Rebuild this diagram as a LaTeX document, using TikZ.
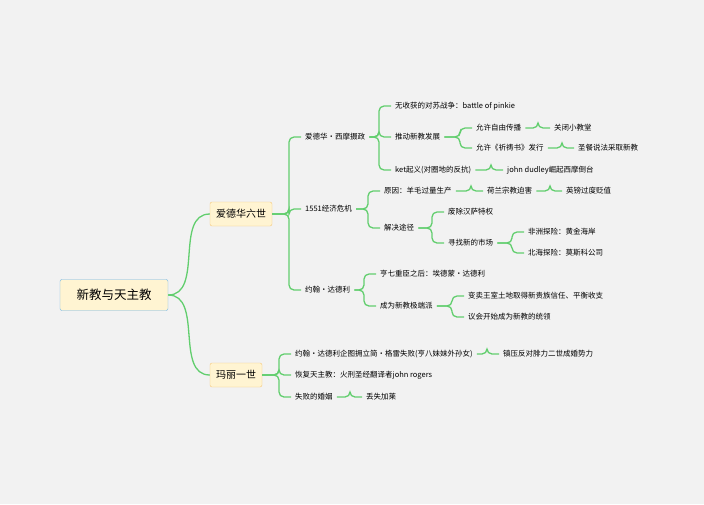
\documentclass[tikz,border=0pt]{standalone}
\usepackage{fontspec}
\setmainfont{Noto Sans CJK SC}
\begin{document}
\begin{tikzpicture}[x=1pt,y=-1pt,
    link/.style={draw={rgb,255:red,98;green,206;blue,110}, line width=1.3pt, rounded corners=5pt},
    leaf/.style={anchor=west, inner xsep=4pt, inner ysep=1pt, font=\fontsize{7.5}{9}\selectfont},
    rootbox/.style={draw={rgb,255:red,110;green,180;blue,230}, fill={rgb,255:red,255;green,244;blue,210}, rounded corners=2pt, minimum width=108pt, minimum height=31pt, font=\fontsize{12.5}{14}\selectfont},
    mainbox/.style={draw={rgb,255:red,245;green,200;blue,120}, fill={rgb,255:red,255;green,244;blue,210}, rounded corners=2pt, minimum height=24pt, inner xsep=6pt, font=\fontsize{10}{12}\selectfont}]
        %background
        \fill[fill={rgb,255:red,242;green,242;blue,242}] (0,0) rectangle (704,504);

        % Main Nodes
        \node [rootbox] (root) at (114,295) {新教与天主教};
        \node [mainbox] (edw) at (241,214) {爱德华六世};
        \node [mainbox] (mary) at (236,375) {玛丽一世};

        % Text Node
        \node [leaf] (seym) at (301,137) {爱德华·西摩摄政};
        \node [leaf] (crisis) at (301,209) {1551经济危机};
        \node [leaf] (dud) at (301,290) {约翰·达德利};
        % Text Node
        \node [leaf] (pink) at (391,106) {无收获的对苏战争：battle of pinkie};
        \node [leaf] (prot) at (391,137) {推动新教发展};
        \node [leaf] (ket) at (391,170) {ket起义(对圈地的反抗)};
        \node [leaf] (free) at (472,128) {允许自由传播};
        \node [leaf] (pray) at (472,148) {允许《祈祷书》发行};
        \node [leaf] (chap) at (550,128) {关闭小教堂};
        \node [leaf] (euch) at (574,148) {圣餐说法采取新教};
        \node [leaf] (jdud) at (503,170) {john dudley崛起西摩倒台};
        % Text Node
        \node [leaf] (wool) at (380,191) {原因：羊毛过量生产};
        \node [leaf] (holl) at (483,191) {荷兰宗教迫害};
        \node [leaf] (poun) at (562,191) {英镑过度贬值};
        \node [leaf] (way) at (380,228) {解决途径};
        \node [leaf] (hans) at (444,212) {废除汉萨特权};
        \node [leaf] (mark) at (444,243) {寻找新的市场};
        \node [leaf] (afr) at (524,232) {非洲探险：黄金海岸};
        \node [leaf] (nsea) at (524,253) {北海探险：莫斯科公司};
        % Text Node
        \node [leaf] (hen) at (376,274) {亨七重臣之后：埃德蒙·达德利};
        \node [leaf] (ext) at (376,306) {成为新教极端派};
        \node [leaf] (land) at (464,296) {变卖王室土地取得新贵族信任、平衡收支};
        \node [leaf] (parl) at (464,317) {议会开始成为新教的统领};
        % Text Node
        \node [leaf] (jane) at (291,354) {约翰·达德利企图拥立简·格雷失败(亨八妹妹外孙女)};
        \node [leaf] (phil) at (499,354) {镇压反对腓力二世成婚势力};
        \node [leaf] (cath) at (291,375) {恢复天主教：火刑圣经翻译者john rogers};
        \node [leaf] (marr) at (291,397) {失败的婚姻};
        \node [leaf] (cal) at (362,397) {丢失加莱};

        % Straight Lines
        \draw [link] (root.east) to[out=0,in=180] (edw.west);
        \draw [link] (root.east) to[out=0,in=180] (mary.west);
        \foreach \p/\c in {edw/seym,edw/crisis,edw/dud,seym/pink,seym/prot,seym/ket,
                prot/free,prot/pray,free/chap,pray/euch,ket/jdud,
                crisis/wool,crisis/way,wool/holl,holl/poun,way/hans,way/mark,mark/afr,mark/nsea,
                dud/hen,dud/ext,ext/land,ext/parl,
                mary/jane,mary/cath,mary/marr,jane/phil,marr/cal}
            \draw [link] (\p.east) -| ([xshift=-12pt]\c.west) -- (\c.west);
\end{tikzpicture}
\end{document}
